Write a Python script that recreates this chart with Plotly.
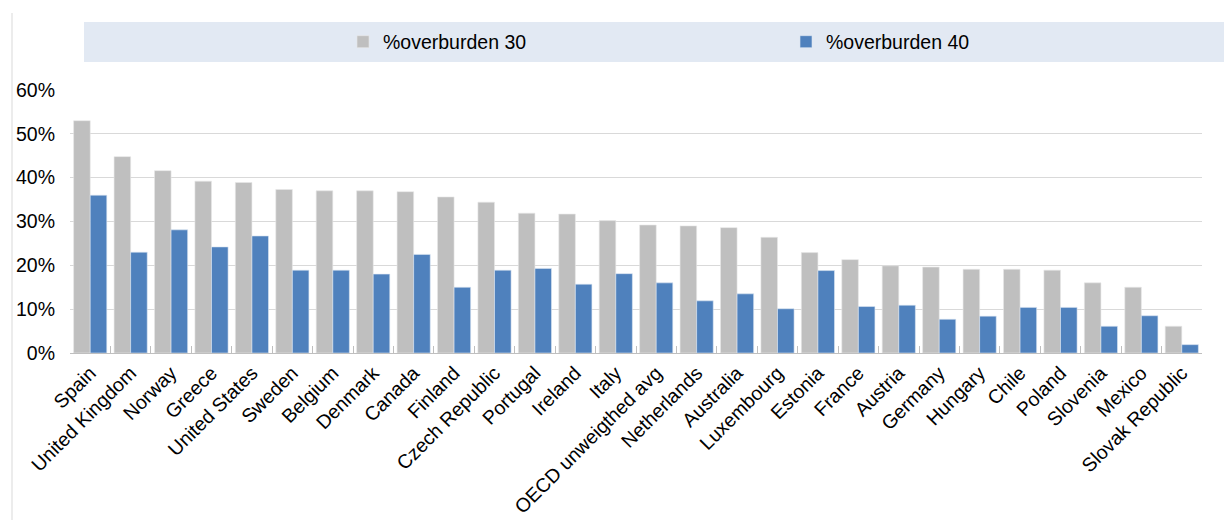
import plotly.graph_objects as go

categories = ["Spain", "United Kingdom", "Norway", "Greece", "United States", "Sweden",
              "Belgium", "Denmark", "Canada", "Finland", "Czech Republic", "Portugal",
              "Ireland", "Italy", "OECD unweigthed avg", "Netherlands", "Australia",
              "Luxembourg", "Estonia", "France", "Austria", "Germany", "Hungary", "Chile",
              "Poland", "Slovenia", "Mexico", "Slovak Republic"]

overburden_30 = [0.530, 0.448, 0.416, 0.392, 0.389, 0.373, 0.370, 0.370, 0.368, 0.356,
                 0.344, 0.319, 0.317, 0.302, 0.292, 0.290, 0.286, 0.264, 0.229, 0.213,
                 0.199, 0.196, 0.191, 0.191, 0.189, 0.160, 0.150, 0.061]

overburden_40 = [0.360, 0.230, 0.281, 0.242, 0.267, 0.189, 0.189, 0.180, 0.225, 0.150,
                 0.189, 0.193, 0.157, 0.181, 0.160, 0.119, 0.135, 0.101, 0.188, 0.106,
                 0.109, 0.077, 0.084, 0.104, 0.104, 0.061, 0.085, 0.019]

series_names = ["%overburden 30", "%overburden 40"]
y_ticks = [0, 0.1, 0.2, 0.3, 0.4, 0.5, 0.6]

FONT = "Liberation Sans, Arial, sans-serif"
FS = 19.5

fig = go.Figure()
fig.add_trace(go.Bar(x=categories, y=overburden_30, name=series_names[0],
                     marker=dict(color="#bfbfbf", line=dict(color="#e8e8e8", width=0.6))))
fig.add_trace(go.Bar(x=categories, y=overburden_40, name=series_names[1],
                     marker=dict(color="#4f81bd", line=dict(color="#dce6f2", width=0.6))))

W, H = 1224, 520
ml, mr, mt, mb = 70, 22, 90, 167
pw = W - ml - mr
ph = H - mt - mb

def px_x(x):
    return (x - ml) / pw

def px_y(y):
    return (H - mb - y) / ph

fig.update_layout(
    width=W, height=H,
    margin=dict(l=ml, r=mr, t=mt, b=mb, pad=0, autoexpand=False),
    paper_bgcolor="white", plot_bgcolor="white",
    barmode="group", bargap=0.18, bargroupgap=0,
    font=dict(family=FONT, size=FS, color="#000000"),
    showlegend=True,
    legend=dict(orientation="h", x=px_x(343), xanchor="left", y=px_y(42), yanchor="middle",
                bgcolor="rgba(0,0,0,0)", font=dict(family=FONT, size=FS, color="#000000"),
                entrywidth=398, entrywidthmode="pixels", itemclick=False),
    xaxis=dict(showgrid=False, showline=True, linecolor="#bfbfbf", linewidth=1,
               ticks="inside", ticklen=7, tickcolor="#bfbfbf", tickson="boundaries",
               tickangle=-45, tickfont=dict(family=FONT, size=FS, color="#000000"),
               fixedrange=True, automargin=False),
    yaxis=dict(range=[0, 0.6], tickvals=y_ticks, tickformat=".0%", showgrid=True,
               gridcolor="#d9d9d9", gridwidth=1, zeroline=False, showline=False,
               ticks="", ticklabelstandoff=14, automargin=False,
               tickfont=dict(family=FONT, size=FS, color="#000000"), fixedrange=True),
    shapes=[
        dict(type="rect", xref="paper", yref="paper", x0=px_x(84), x1=px_x(1226),
             y0=px_y(62), y1=px_y(22), fillcolor="#e2e9f3", line=dict(width=0),
             layer="below"),
        dict(type="line", xref="paper", yref="paper", x0=px_x(12), x1=px_x(12),
             y0=px_y(520), y1=px_y(13), line=dict(color="#d9d9d9", width=1)),
    ],
)

fig.write_html("out.html", config={"displayModeBar": False},
               post_script="document.body.style.margin='0';document.body.style.overflow='hidden';")
